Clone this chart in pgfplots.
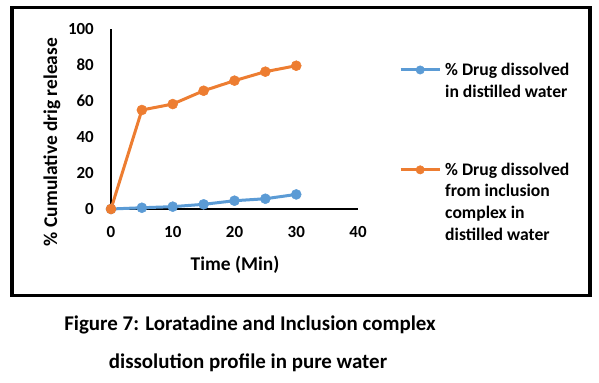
\documentclass[border=0pt]{standalone}
\usepackage{fontspec}
\setmainfont{Carlito}
\usepackage{pgfplots}
\pgfplotsset{compat=1.18}
\definecolor{exblue}{HTML}{5B9BD5}
\definecolor{exorange}{HTML}{ED7D31}
\begin{document}
\begin{tikzpicture}
\useasboundingbox (0,0) rectangle (599bp,-383bp);
\draw[line width=3.5bp] (12bp,-7.5bp) rectangle (590bp,-295.5bp);
\begin{axis}[
  at={(111bp,-209bp)}, anchor=south west,
  scale only axis, width=247bp, height=180bp,
  xmin=0, xmax=40, ymin=0, ymax=100,
  axis lines=left,
  axis line style={-, line width=1.2bp, black},
  xtick={0,10,...,40}, ytick={0,20,...,100},
  major tick length=0pt,
  /pgf/number format/assume math mode=true,
  ticklabel style={font=\fontsize{17}{20}\selectfont\bfseries},
  yticklabel style={inner sep=0pt, anchor=east, xshift=-17bp},
  xticklabel style={inner sep=0pt, anchor=north, yshift=-17bp},
  clip=false,
  legend style={draw=none, fill=none, at={(1.166,0.812)}, anchor=north west,
    inner sep=0pt, font=\fontsize{17.7}{21.7}\selectfont\bfseries,
    row sep=86bp, column sep=4bp, nodes={inner sep=0pt}},
  legend cell align=left,
  legend image code/.code={\draw[mark repeat=2,mark phase=2,#1,mark size=4.2bp] plot coordinates {(0bp,0bp) (19.5bp,0bp) (39bp,0bp)};},
]
\addplot[exblue, line width=3bp, mark=*, mark size=5bp, mark options={fill=exblue, draw=exblue, line width=0.5bp}]
  coordinates {(0,0) (5,0.7) (10,1.3) (15,2.6) (20,4.6) (25,5.7) (30,8.1)};
\addlegendentry{\vtop{\hbox{\% Drug dissolved}\hbox{in distilled water}}}
\addplot[exorange, line width=3bp, mark=*, mark size=5bp, mark options={fill=exorange, draw=exorange, line width=0.5bp}]
  coordinates {(0,0) (5,55) (10,58.3) (15,65.7) (20,71.3) (25,76.3) (30,79.6)};
\addlegendentry{\vtop{\hbox{\% Drug dissolved}\hbox{from inclusion}\hbox{complex in}\hbox{distilled water}}}
\end{axis}
\node[font=\fontsize{19.5}{22}\selectfont\bfseries, anchor=base] at (235bp,-270bp) {Time (Min)};
\node[font=\fontsize{19.5}{22}\selectfont\bfseries, rotate=90, anchor=center] at (52bp,-142bp) {\% Cumulative drig release};
\node[font=\fontsize{21}{24}\selectfont\bfseries, anchor=base] at (250bp,-330bp) {Figure 7: Loratadine and Inclusion complex};
\node[font=\fontsize{21}{24}\selectfont\bfseries, anchor=base] at (248bp,-368bp) {dissolution profile in pure water};
\end{tikzpicture}
\end{document}
